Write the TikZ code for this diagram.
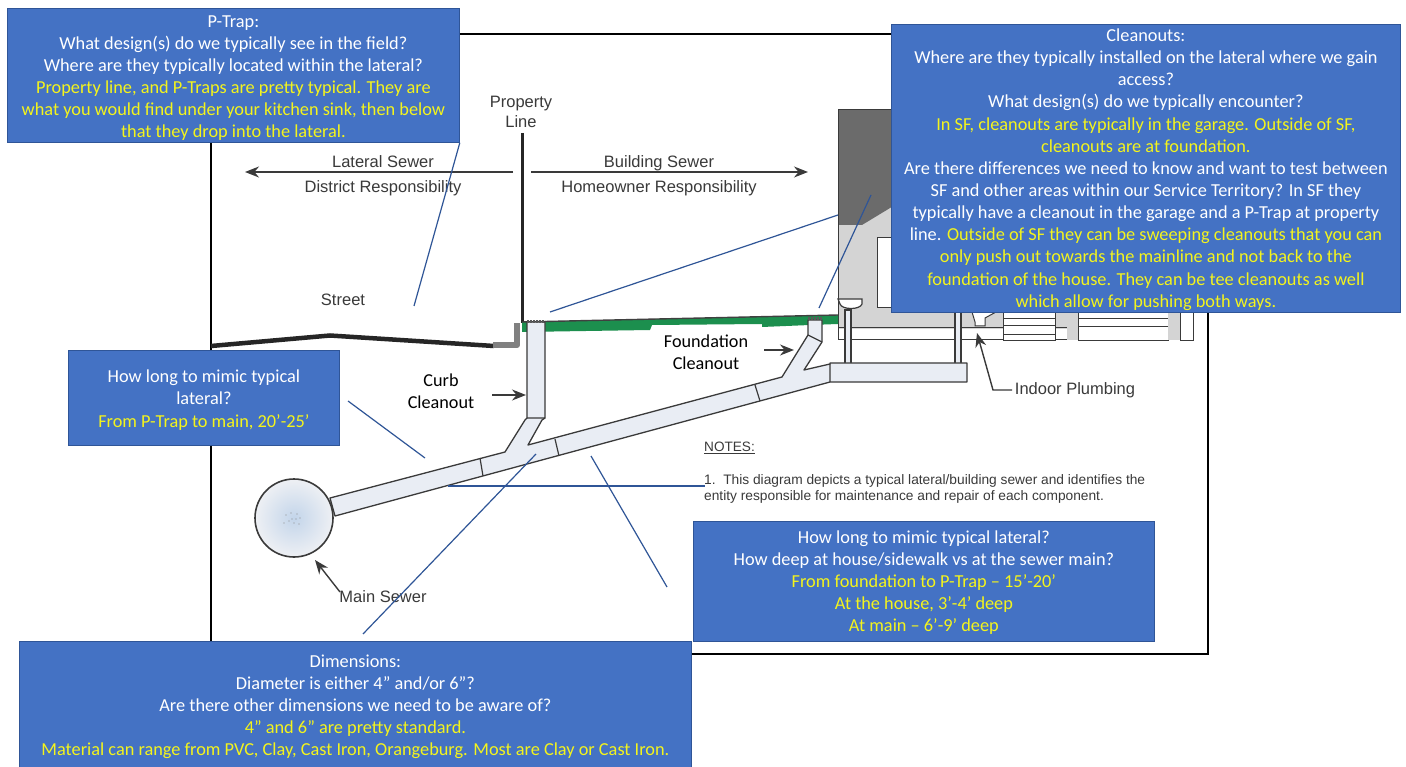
\documentclass[tikz,border=0pt]{standalone}
\usepackage{fontspec}
\usetikzlibrary{arrows.meta}
\setmainfont{Carlito}
\newfontfamily\drawfont{Liberation Sans}
\definecolor{boxblue}{HTML}{4472C4}
\definecolor{boxedge}{HTML}{2F5597}
\definecolor{ylw}{HTML}{F4F41C}
\definecolor{pipefill}{HTML}{E9EDF4}
\definecolor{inkgray}{HTML}{3A3A3A}
\definecolor{grass}{HTML}{1C8F4E}
\definecolor{mainin}{HTML}{C3D5EA}
\definecolor{mainout}{HTML}{EEF0F4}
\newcommand{\ylt}[1]{\textcolor{ylw}{#1}}
\newcommand{\firstgap}[1]{\rule{0pt}{#1pt}}
\tikzset{
  infobox/.style={draw=boxedge,line width=.8pt,fill=boxblue,text=white,align=center,font=\fontsize{18.3}{22.15}\selectfont,inner sep=0pt,minimum width=#1,anchor=north west},
  link/.style={draw=boxedge,line width=1.2pt},
  dwg/.style={font=\drawfont\fontsize{16.5}{20}\selectfont,text=inkgray,align=center,inner sep=0pt},
  cal/.style={font=\fontsize{18.2}{22}\selectfont,text=black,align=center,inner sep=0pt},
  pipeedge/.style={draw=inkgray,line width=1.3pt,fill=pipefill,line join=round},
  thin dwg/.style={draw=inkgray,line width=1.2pt},
  tipped/.style={draw=inkgray,line width=1.4pt,-{Stealth[length=14pt,width=11pt]}},
}
\begin{document}
\begin{tikzpicture}[x=1pt,y=-1pt]
\useasboundingbox (0,0) rectangle (1406,767);
\fill[white] (0,0) rectangle (1406,767);
% frame
\draw[black,line width=1.5pt] (211,34) rectangle (1208,654);
% property line, street
\draw[black!85,line width=3pt] (522,133) -- (522,323);
\draw[black!85,line width=4.5pt] (211,346) -- (330,335.5) -- (494,346);
\draw[gray,line width=6pt,line join=round] (493,345) -- (517,345) -- (517,323);
% house
\fill[black!17] (838,110) rectangle (1193,340);
\fill[black!58] (838,110) -- (895,110) -- (895,205) -- (862,225) -- (838,225) -- cycle;
\draw[inkgray,line width=1pt] (838,110) -- (838,340) -- (1193,340) -- (1193,312);
\draw[inkgray,line width=1pt] (838,110) -- (895,110);
\fill[white,draw=inkgray,line width=1pt] (877,238) rectangle (895,308);
\fill[white] (839,329) rectangle (1192,339);
\draw[inkgray,line width=1pt] (838,328) -- (1193,328);
% stairs and columns below the box
\fill[white,draw=inkgray,line width=.8pt] (1003,312) rectangle (1055,340);
\draw[inkgray,line width=.8pt] (1003,318) -- (1055,318) (1003,325) -- (1055,325) (1003,334) -- (1055,334);
\fill[white,draw=inkgray,line width=.8pt] (1078,312) rectangle (1168,340);
\draw[inkgray,line width=.8pt] (1078,318) -- (1168,318) (1078,326) -- (1168,326);
\fill[white,draw=inkgray,line width=.8pt] (1180,312) rectangle (1193,340);
\fill[black!17] (1067,312) rectangle (1078,340);
\fill[black!17] (1168,312) rectangle (1180,340);
% indoor trap
\draw[inkgray,line width=1pt,fill=white] (972,312) -- (975,322) -- (975,326) -- (985,326) -- (985,318) -- (996,312);
% green strip
\fill[grass] (522,322) -- (838,315) -- (838,324) -- (810,325) -- (762,327) -- (762,324) -- (652,325) -- (650,330) -- (522,332) -- cycle;
\draw[black!75,line width=1.4pt] (522,322) -- (838,315);
% plumbing stacks
\draw[thin dwg,fill=pipefill] (845,310) rectangle (851,364);
\draw[thin dwg,fill=pipefill] (955,312) rectangle (961,364);
\draw[thin dwg,fill=white] (838,299) -- (862,299) -- (862,304) .. controls (860,310) and (842,310) .. (840,304) -- cycle;
% pipe
\draw[pipeedge] (330,498) -- (505,452) -- (525,420) -- (527,418) -- (527,322) -- (545,322) -- (545,418) -- (542,420) -- (528,445) -- (782,377) -- (808,335) -- (808,320) -- (822,320) -- (822,342) -- (804,370) -- (830,364) -- (830,363) -- (967,363) -- (967,382) -- (830,382) -- (335,516) -- cycle;
\draw[thin dwg] (480,458) -- (483,476) (555,439) -- (559,456) (755,385) -- (760,401) (830,364) -- (830,382) (527,418) -- (545,418) (808,335) -- (822,342);
\draw[black!65,line width=3pt,dash pattern=on 2pt off 1pt] (527,322) -- (545,322) (808,319) -- (822,319);
% main sewer
\draw[inkgray,line width=1.6pt,inner color=mainin,outer color=mainout] (294,518) circle[radius=39];
\foreach \dx/\dy in {-8/-3,-3/-5,3/-4,6/0,-5/3,0/5,5/6,-10/5,2/1,-2/1}
  \fill[black!45] (294+\dx,518+\dy) circle[radius=.7];
% drawing labels
\node[dwg] (prop) at (521,112) {Property\\Line};
\node[dwg] (latlab) at (383,162) {Lateral Sewer};
\node[dwg] (distlab) at (383,188) {District Responsibility};
\node[dwg] (bldlab) at (659,163) {Building Sewer};
\node[dwg] (homelab) at (659,188) {Homeowner Responsibility};
\node[dwg] (street) at (343,300) {Street};
\node[dwg] (mainlab) at (383,597) {Main Sewer};
\node[dwg] (indoor) at (1075,390) {Indoor Plumbing};
\node[cal] (curb) at (441,391) {Curb\\Cleanout};
\node[cal] (found) at (706,352) {Foundation\\Cleanout};
\node[dwg,font=\drawfont\fontsize{13.6}{16}\selectfont,anchor=west] (notes) at (704,448) {\underline{NOTES:}};
\node[dwg,font=\drawfont\fontsize{13.75}{16.4}\selectfont,anchor=north west,align=left] (notetext) at (704,474) {1.\ \ This diagram depicts a typical lateral/building sewer and identifies the\\entity responsible for maintenance and repair of each component.};
% drawing arrows
\coordinate (latA) at (513,172); \coordinate (latB) at (245,172);
\coordinate (bldA) at (531,172); \coordinate (bldB) at (808,172);
\draw[tipped] (latA) -- (latB);
\draw[tipped] (bldA) -- (bldB);
\coordinate (curbA) at (492,395); \coordinate (curbB) at (526,395);
\draw[tipped] (curbA) -- (curbB);
\coordinate (fndA) at (764,350); \coordinate (fndB) at (794,350);
\draw[tipped] (fndA) -- (fndB);
\coordinate (mainA) at (340,592); \coordinate (mainB) at (315,560);
\draw[tipped] (mainA) -- (mainB);
\coordinate (indA) at (1012,390); \coordinate (indB) at (993,390); \coordinate (indC) at (977,333);
\draw[tipped] (indA) -- (indB) -- (indC);
% thin connector ends
\coordinate (l1) at (414,306);
\coordinate (l2a) at (550,312); \coordinate (l2b) at (838,215);
\coordinate (l3a) at (871,195); \coordinate (l3b) at (819,308);
\coordinate (l4a) at (348,401); \coordinate (l4b) at (425,458);
\coordinate (l5a) at (363,634); \coordinate (l5b) at (536,454);
\coordinate (l6a) at (448,486); \coordinate (l6b) at (705,486);
\coordinate (l7a) at (591,456); \coordinate (l7b) at (667,587);
% boxes
\node[infobox=452pt,minimum height=134pt] (ptrap) at (7,8) {\firstgap{17}P-Trap:\\
What design(s) do we typically see in the field?\\
Where are they typically located within the lateral?\\
\ylt{Property line, and P-Traps are pretty typical. They are}\\
\ylt{what you would find under your kitchen sink, then below}\\
\ylt{that they drop into the lateral.}};
\node[infobox=509pt,minimum height=288pt] (clean) at (891,24) {\firstgap{15}Cleanouts:\\
Where are they typically installed on the lateral where we gain\\
access?\\
What design(s) do we typically encounter?\\
\ylt{In SF, cleanouts are typically in the garage. Outside of SF,}\\
\ylt{cleanouts are at foundation.}\\
Are there differences we need to know and want to test between\\
SF and other areas within our Service Territory? In SF they\\
typically have a cleanout in the garage and a P-Trap at property\\
line. \ylt{Outside of SF they can be sweeping cleanouts that you can}\\
\ylt{only push out towards the mainline and not back to the}\\
\ylt{foundation of the house. They can be tee cleanouts as well}\\
\ylt{which allow for pushing both ways.}};
\node[infobox=271pt,minimum height=95pt] (lleft) at (68,350) {\firstgap{17}How long to mimic typical\\lateral?\\\ylt{From P-Trap to main, 20’-25’}};
\node[infobox=461pt,minimum height=120pt] (lright) at (693,521) {\firstgap{15}How long to mimic typical lateral?\\
How deep at house/sidewalk vs at the sewer main?\\
\ylt{From foundation to P-Trap – 15’-20’}\\
\ylt{At the house, 3’-4’ deep}\\
\ylt{At main – 6’-9’ deep}};
\node[infobox=672pt,minimum height=131pt] (dims) at (19,641) {Dimensions:\\
Diameter is either 4” and/or 6”?\\
Are there other dimensions we need to be aware of?\\
\ylt{4” and 6” are pretty standard.}\\
\ylt{Material can range from PVC, Clay, Cast Iron, Orangeburg. Most are Clay or Cast Iron.}};
% connectors
\draw[link] (ptrap.south east) -- (l1);
\draw[link] (l2a) -- (l2b);
\draw[link] (l3a) -- (l3b);
\draw[link] (l4a) -- (l4b);
\draw[link] (l5a) -- (l5b);
\draw[link] (l6a) -- (l6b);
\draw[link] (l7a) -- (l7b);
\end{tikzpicture}
\end{document}
